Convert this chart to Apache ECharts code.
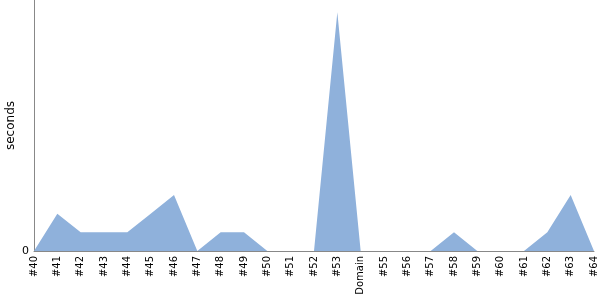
<!DOCTYPE html>
<html>
<head>
<meta charset="utf-8">
<script src="https://cdn.jsdelivr.net/npm/echarts@6/dist/echarts.min.js"></script>
<style>html,body{margin:0;padding:0;background:#fff}#c{width:600px;height:300px}</style>
</head>
<body>
<div id="c"></div>
<script>
const categories = ['#40','#41','#42','#43','#44','#45','#46','#47','#48','#49','#50','#51','#52','#53','Domain','#55','#56','#57','#58','#59','#60','#61','#62','#63','#64'];
const seconds = [0,2,1,1,1,2,3,0,1,1,0,0,0,12.8,0,0,0,0,1,0,0,0,1,3,0];
const yMax = 13.45;

const chart = echarts.init(document.getElementById('c'), null, {renderer:'canvas'});
chart.setOption({
  animation: false,
  grid: {left: 34, right: 6, top: 0, bottom: 49, containLabel: false, outerBoundsMode: 'none'},
  xAxis: {
    type: 'category',
    data: categories,
    boundaryGap: false,
    axisLine: {lineStyle: {color: '#888', width: 1}},
    axisTick: {show: false},
    axisLabel: {rotate: 90, fontSize: 10, color: '#000', fontFamily: 'DejaVu Sans', margin: 5, interval: 0}
  },
  yAxis: {
    type: 'value',
    min: 0, max: yMax, interval: yMax,
    name: 'seconds', nameLocation: 'middle', nameGap: 17, nameRotate: 90, nameMoveOverlap: false,
    nameTextStyle: {fontSize: 12, color: '#000', fontFamily: 'DejaVu Sans'},
    axisLine: {show: true, lineStyle: {color: '#888', width: 1}},
    axisTick: {show: false},
    splitLine: {show: false},
    axisLabel: {fontSize: 11, color: '#000', fontFamily: 'DejaVu Sans', margin: 5, formatter: v => v === 0 ? '0' : ''}
  },
  series: [{
    type: 'line',
    data: seconds,
    symbol: 'none',
    lineStyle: {width: 0},
    areaStyle: {color: '#8fb1db', opacity: 1}
  }]
});
</script>
</body>
</html>
